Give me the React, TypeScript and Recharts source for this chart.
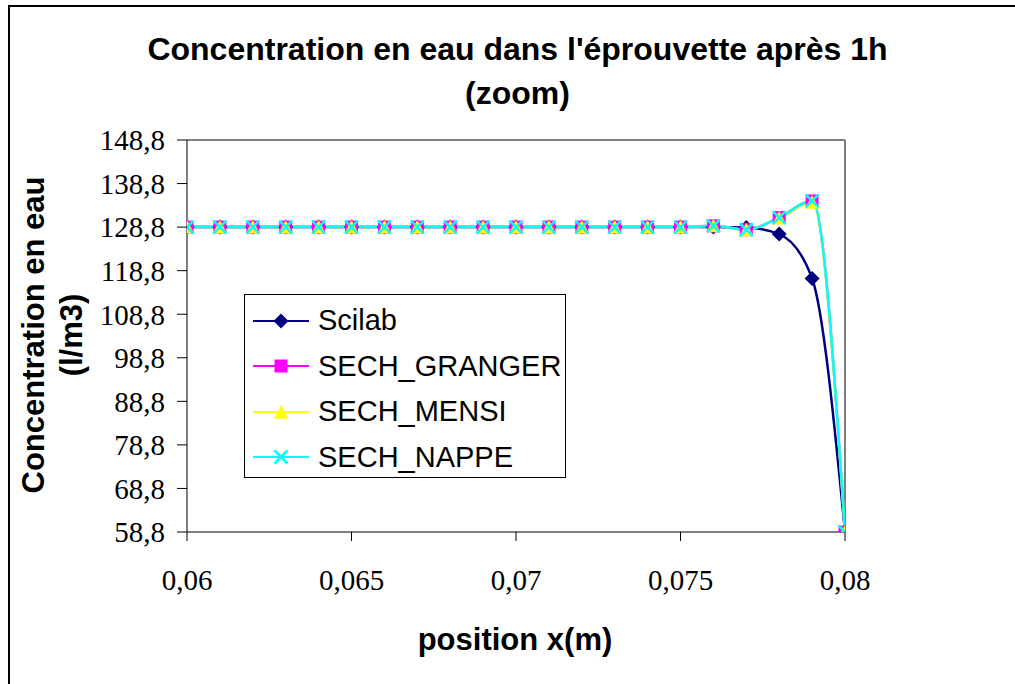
import { Legend, Line, LineChart, ReferenceLine, XAxis, YAxis } from "recharts";

const positions = [
  0.06, 0.061, 0.062, 0.063, 0.064, 0.065, 0.066, 0.067, 0.068, 0.069, 0.07,
  0.071, 0.072, 0.073, 0.074, 0.075, 0.076, 0.077, 0.078, 0.079, 0.08,
];
const scilab = [
  128.8, 128.8, 128.8, 128.8, 128.8, 128.8, 128.8, 128.8, 128.8, 128.8, 128.8,
  128.8, 128.8, 128.8, 128.8, 128.8, 128.8, 128.7, 127.2, 117.0, 58.8,
];
const sechGranger = [
  128.8, 128.8, 128.8, 128.8, 128.8, 128.8, 128.8, 128.8, 128.8, 128.8, 128.8,
  128.8, 128.8, 128.8, 128.8, 128.8, 129.1, 128.2, 131.0, 134.8, 58.8,
];
const sechMensi = [
  128.8, 128.8, 128.8, 128.8, 128.8, 128.8, 128.8, 128.8, 128.8, 128.8, 128.8,
  128.8, 128.8, 128.8, 128.8, 128.8, 129.1, 128.2, 130.9, 134.5, 58.8,
];
const sechNappe = [
  128.8, 128.8, 128.8, 128.8, 128.8, 128.8, 128.8, 128.8, 128.8, 128.8, 128.8,
  128.8, 128.8, 128.8, 128.8, 128.8, 129.1, 128.2, 131.0, 134.8, 58.8,
];
const xTicks = [0.06, 0.065, 0.07, 0.075, 0.08];
const yTicks = [58.8, 68.8, 78.8, 88.8, 98.8, 108.8, 118.8, 128.8, 138.8, 148.8];

const data = positions.map((x, i) => ({
  x,
  scilab: scilab[i],
  granger: sechGranger[i],
  mensi: sechMensi[i],
  nappe: sechNappe[i],
}));

const series = [
  { key: "scilab", name: "Scilab", color: "#000080", shape: "diamond" },
  { key: "granger", name: "SECH_GRANGER", color: "#ff00ff", shape: "square" },
  { key: "mensi", name: "SECH_MENSI", color: "#ffff00", shape: "triangle" },
  { key: "nappe", name: "SECH_NAPPE", color: "#00ffff", shape: "cross" },
];

function Marker({ shape, color, cx, cy }: { shape: string; color: string; cx: number; cy: number }) {
  if (shape === "diamond")
    return <path d={`M${cx},${cy - 7.5}L${cx + 7.5},${cy}L${cx},${cy + 7.5}L${cx - 7.5},${cy}Z`} fill={color} />;
  if (shape === "square") return <rect x={cx - 6.5} y={cy - 6.5} width={13} height={13} fill={color} />;
  if (shape === "triangle")
    return <path d={`M${cx},${cy - 7}L${cx + 7},${cy + 6.5}L${cx - 7},${cy + 6.5}Z`} fill={color} />;
  return (
    <path d={`M${cx - 6.5},${cy - 6.5}L${cx + 6.5},${cy + 6.5}M${cx + 6.5},${cy - 6.5}L${cx - 6.5},${cy + 6.5}`} stroke={color} strokeWidth={2.5} />
  );
}

const fmtX = (v: number) => String(+v.toFixed(3)).replace(".", ",");
const fmtY = (v: number) => v.toFixed(1).replace(".", ",");

const tickFont = { fontFamily: "Liberation Serif", fontSize: 29, fill: "#000" };
const bold = { fontFamily: "Liberation Sans", fontWeight: 700, color: "#000" } as const;

function LegendBox() {
  return (
    <div style={{ border: "1px solid #000", background: "#fff", width: 322, height: 184, boxSizing: "border-box", padding: "3px 0 0 8px" }}>
      {series.map((s) => (
        <div key={s.key} style={{ display: "flex", alignItems: "center", height: 45.5 }}>
          <svg width={56} height={20}>
            <line x1={0} y1={10} x2={56} y2={10} stroke={s.color} strokeWidth={2} />
            <Marker shape={s.shape} color={s.color} cx={28} cy={10} />
          </svg>
          <span style={{ fontFamily: "Liberation Sans", fontSize: 29, marginLeft: 9, color: "#000" }}>{s.name}</span>
        </div>
      ))}
    </div>
  );
}

export default function App() {
  return (
    <div style={{ position: "fixed", left: 0, top: 0, width: 1015, height: 684, background: "#fff", overflow: "hidden" }}>
      <div style={{ position: "absolute", left: 8, top: 5, width: 1020, height: 700, border: "2px solid #000", boxSizing: "border-box" }} />
      <div style={{ ...bold, position: "absolute", left: 0, width: 1035, top: 27, fontSize: 32, textAlign: "center", lineHeight: "44px" }}>
        Concentration en eau dans l'éprouvette après 1h
        <br />
        (zoom)
      </div>
      <div style={{ ...bold, position: "absolute", left: 53, top: 335, width: 420, fontSize: 31, textAlign: "center", lineHeight: "38px", transform: "translate(-50%, -50%) rotate(-90deg)" }}>
        Concentration en eau
        <br />
        (l/m3)
      </div>
      <div style={{ ...bold, position: "absolute", left: 315, width: 400, top: 622, fontSize: 31, textAlign: "center" }}>position x(m)</div>
      <LineChart width={1015} height={684} data={data} margin={{ top: 140, right: 170, bottom: 92, left: 87 }} style={{ position: "absolute", left: 0, top: 0 }}>
        <ReferenceLine y={148.8} stroke="#808080" strokeWidth={2} />
        <ReferenceLine x={0.08} stroke="#808080" strokeWidth={2} />
        <XAxis
          dataKey="x"
          type="number"
          domain={[0.06, 0.08]}
          ticks={xTicks}
          tickFormatter={fmtX}
          height={60}
          tickSize={9}
          tickMargin={28}
          stroke="#000"
          tick={tickFont}
          allowDataOverflow
        />
        <YAxis
          type="number"
          domain={[58.8, 148.8]}
          ticks={yTicks}
          tickFormatter={fmtY}
          width={100}
          tickSize={10}
          tickMargin={12}
          stroke="#000"
          tick={tickFont}
          interval={0}
          allowDataOverflow
        />
        <Legend
          layout="vertical"
          align="center"
          verticalAlign="middle"
          content={() => <LegendBox />}
          wrapperStyle={{ position: "absolute", left: 244, top: 294, width: 322, height: 184 }}
        />
        {series.map((s) => (
          <Line
            key={s.key}
            dataKey={s.key}
            name={s.name}
            type="monotone"
            stroke={s.color}
            strokeWidth={2.5}
            isAnimationActive={false}
            activeDot={false}
            dot={(p: any) => <Marker key={`${s.key}-${p.index}`} shape={s.shape} color={s.color} cx={p.cx} cy={p.cy} />}
          />
        ))}
      </LineChart>
    </div>
  );
}
